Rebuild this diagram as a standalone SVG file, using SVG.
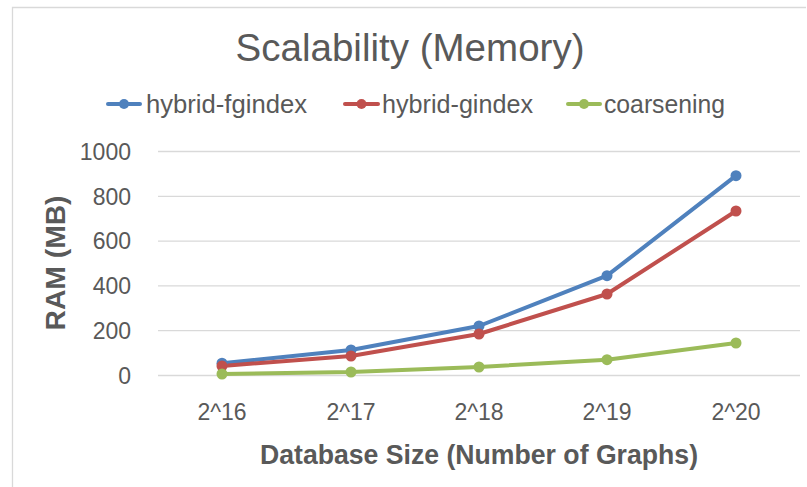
<svg xmlns="http://www.w3.org/2000/svg" width="807" height="487" viewBox="0 0 807 487">
<style>
.t{font-family:"Liberation Sans",Arial,sans-serif;fill:#595959}
.grid{stroke:#d9d9d9;stroke-width:1.3}
.s{fill:none;stroke-width:4;stroke-linejoin:round;stroke-linecap:round}
</style>
<rect width="807" height="487" fill="#fff"/>
<path d="M12.5,487 V7.5 H806" fill="none" stroke="#d9d9d9" stroke-width="1.3"/>
<g id="title"><text class="t" x="410" y="61" font-size="38" text-anchor="middle" textLength="349" lengthAdjust="spacingAndGlyphs">Scalability (Memory)</text></g>
<g id="grid">
<line class="grid" x1="158" y1="151.5" x2="800" y2="151.5"/>
<line class="grid" x1="158" y1="196.3" x2="800" y2="196.3"/>
<line class="grid" x1="158" y1="241.1" x2="800" y2="241.1"/>
<line class="grid" x1="158" y1="285.9" x2="800" y2="285.9"/>
<line class="grid" x1="158" y1="330.7" x2="800" y2="330.7"/>
<line class="grid" x1="158" y1="375.5" x2="800" y2="375.5"/>
</g>
<g id="yaxis" class="t" font-size="23" text-anchor="end">
<text x="131" y="160">1000</text>
<text x="131" y="205">800</text>
<text x="131" y="249">600</text>
<text x="131" y="294">400</text>
<text x="131" y="339">200</text>
<text x="131" y="384">0</text>
</g>
<g id="xaxis" class="t" font-size="23" text-anchor="middle">
<text x="222" y="420">2^16</text>
<text x="351" y="420">2^17</text>
<text x="479" y="420">2^18</text>
<text x="607" y="420">2^19</text>
<text x="736" y="420">2^20</text>
</g>
<g id="xtitle"><text class="t" x="479" y="464" font-size="27" font-weight="bold" text-anchor="middle" textLength="438" lengthAdjust="spacingAndGlyphs">Database Size (Number of Graphs)</text></g>
<g id="ytitle"><text class="t" transform="translate(65,263) rotate(-90)" font-size="27" font-weight="bold" text-anchor="middle" textLength="135" lengthAdjust="spacingAndGlyphs">RAM (MB)</text></g>
<g id="connectors">
<polyline id="s-fgindex" class="s" stroke="#4F81BD" points="222,363.2 351,350 479,326 607,275.7 736,175.7"/>
<polyline id="s-gindex" class="s" stroke="#C0504D" points="222,366 351,356 479,334 607,294 736,211"/>
<polyline id="s-coarsening" class="s" stroke="#9BBB59" points="222,374 351,372 479,367 607,359.7 736,343"/>
</g>
<g id="points-fgindex" fill="#4F81BD">
<circle cx="222" cy="363.2" r="5.5"/><circle cx="351" cy="350" r="5.5"/><circle cx="479" cy="326" r="5.5"/><circle cx="607" cy="275.7" r="5.5"/><circle cx="736" cy="175.7" r="5.5"/>
</g>
<g id="points-gindex" fill="#C0504D">
<circle cx="222" cy="366" r="5.5"/><circle cx="351" cy="356" r="5.5"/><circle cx="479" cy="334" r="5.5"/><circle cx="607" cy="294" r="5.5"/><circle cx="736" cy="211" r="5.5"/>
</g>
<g id="points-coarsening" fill="#9BBB59">
<circle cx="222" cy="374" r="5.5"/><circle cx="351" cy="372" r="5.5"/><circle cx="479" cy="367" r="5.5"/><circle cx="607" cy="359.7" r="5.5"/><circle cx="736" cy="343" r="5.5"/>
</g>
<g id="legend" font-size="25">
<line x1="108" y1="104" x2="140" y2="104" class="s" stroke="#4F81BD"/><circle cx="124" cy="104" r="5" fill="#4F81BD"/>
<text class="t" x="146" y="113" textLength="161" lengthAdjust="spacingAndGlyphs">hybrid-fgindex</text>
<line x1="345" y1="104" x2="378" y2="104" class="s" stroke="#C0504D"/><circle cx="361.5" cy="104" r="5" fill="#C0504D"/>
<text class="t" x="382" y="113" textLength="151" lengthAdjust="spacingAndGlyphs">hybrid-gindex</text>
<line x1="568" y1="104" x2="600" y2="104" class="s" stroke="#9BBB59"/><circle cx="584" cy="104" r="5" fill="#9BBB59"/>
<text class="t" x="604" y="113" textLength="121" lengthAdjust="spacingAndGlyphs">coarsening</text>
</g>
</svg>
